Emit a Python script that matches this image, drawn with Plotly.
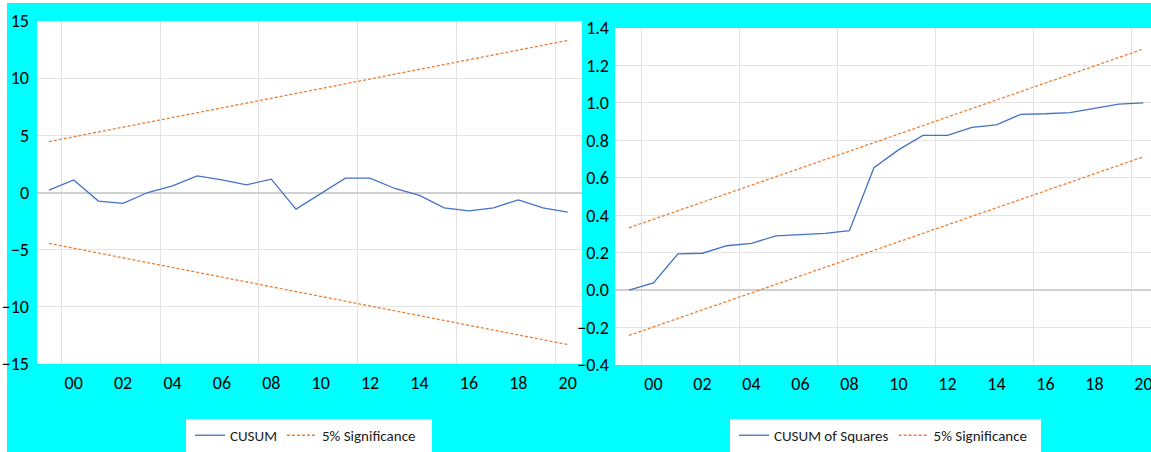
import plotly.graph_objects as go

W, H = 1151, 452

# Recursive-residual stability tests, 1999-2020
years = list(range(1999, 2021))
cusum = [0.2, 1.1, -0.75, -0.95, 0.0, 0.58, 1.46, 1.1, 0.67, 1.17, -1.45,
         -0.1, 1.26, 1.26, 0.35, -0.26, -1.34, -1.6, -1.34, -0.64, -1.34, -1.71]
cusum_sq = [0.0, 0.039, 0.194, 0.197, 0.237, 0.25, 0.29, 0.295, 0.303, 0.317,
            0.654, 0.749, 0.826, 0.826, 0.869, 0.883, 0.939, 0.942, 0.948,
            0.971, 0.993, 1.0]

# 5% significance bounds (straight lines between the end years)
bound_years = [1999, 2020]
cusum_upper = [4.45, 13.3]
cusum_lower = [-4.45, -13.3]
sq_upper = [0.333, 1.288]
sq_lower = [-0.242, 0.712]

tick_years = list(range(2000, 2021, 2))
tick_text = [f"{y % 100:02d}" for y in tick_years]
grid_years = [1999.5, 2003.5, 2007.5, 2011.5, 2015.5, 2019.5]

BLUE = "#4472C4"
ORANGE = "#ED7D31"
FONT = "Carlito, Lato, sans-serif"


def px_x(p):
    return p / W


def px_y(p):
    return 1 - p / H


fig = go.Figure()

# Left panel: CUSUM
fig.add_trace(go.Scatter(x=years, y=cusum, mode="lines", name="CUSUM",
                         line=dict(color=BLUE, width=1.3),
                         xaxis="x", yaxis="y", legend="legend"))
fig.add_trace(go.Scatter(x=bound_years, y=cusum_upper, mode="lines",
                         name="5% Significance",
                         line=dict(color=ORANGE, width=1.3, dash="3px,2px"),
                         xaxis="x", yaxis="y", legend="legend"))
fig.add_trace(go.Scatter(x=bound_years, y=cusum_lower, mode="lines",
                         name="5% Significance", showlegend=False,
                         line=dict(color=ORANGE, width=1.3, dash="3px,2px"),
                         xaxis="x", yaxis="y"))

# Right panel: CUSUM of squares
fig.add_trace(go.Scatter(x=years, y=cusum_sq, mode="lines",
                         name="CUSUM of Squares",
                         line=dict(color=BLUE, width=1.3),
                         xaxis="x2", yaxis="y2", legend="legend2"))
fig.add_trace(go.Scatter(x=bound_years, y=sq_upper, mode="lines",
                         name="5% Significance",
                         line=dict(color=ORANGE, width=1.3, dash="3px,2px"),
                         xaxis="x2", yaxis="y2", legend="legend2"))
fig.add_trace(go.Scatter(x=bound_years, y=sq_lower, mode="lines",
                         name="5% Significance", showlegend=False,
                         line=dict(color=ORANGE, width=1.3, dash="3px,2px"),
                         xaxis="x2", yaxis="y2"))

grid_col = "#E3E3E3"
zero_col = "#D0D0D0"
tick_font = dict(family=FONT, size=18, color="#000000")

xaxis_common = dict(
    tickmode="array", tickvals=tick_years, ticktext=tick_text,
    showgrid=False, zeroline=False, showline=False, ticks="",
    tickfont=tick_font, ticklabelstandoff=6, automargin=False,
    ticklabeloverflow="allow",
    minor=dict(tickmode="array", tickvals=grid_years, showgrid=True,
               gridcolor=grid_col, gridwidth=1, ticks=""),
)
yaxis_common = dict(
    showgrid=True, gridcolor=grid_col, gridwidth=1,
    zeroline=True, zerolinecolor=zero_col, zerolinewidth=2,
    showline=False, ticks="", tickfont=tick_font,
    automargin=False, ticklabeloverflow="allow",
)
legend_font = dict(family=FONT, size=15, color="#1a1a1a")

fig.update_layout(
    width=W, height=H,
    margin=dict(l=0, r=0, t=0, b=0, autoexpand=False),
    paper_bgcolor="#00FFFF",
    plot_bgcolor="#FFFFFF",
    font=dict(family=FONT, color="#222222"),
    xaxis=dict(domain=[px_x(37), px_x(582)], range=[1998.514, 2020.58],
               anchor="y", **xaxis_common),
    yaxis=dict(domain=[px_y(364), px_y(21)], range=[-15, 15],
               tickvals=[-15, -10, -5, 0, 5, 10, 15], anchor="x",
               ticklabelstandoff=7, **yaxis_common),
    xaxis2=dict(domain=[px_x(615), 1.0], range=[1998.43, 2020.31],
                anchor="y2", **xaxis_common),
    yaxis2=dict(domain=[px_y(365), px_y(28)], range=[-0.4, 1.4],
                tickvals=[-0.4, -0.2, 0.0, 0.2, 0.4, 0.6, 0.8, 1.0, 1.2, 1.4],
                tickformat=".1f", anchor="x2", ticklabelstandoff=5,
                **yaxis_common),
    legend=dict(orientation="h", x=px_x(190), y=0.0, xanchor="left",
                yanchor="bottom", bgcolor="rgba(0,0,0,0)",
                font=legend_font, itemwidth=30),
    legend2=dict(orientation="h", x=px_x(734), y=0.0, xanchor="left",
                 yanchor="bottom", bgcolor="rgba(0,0,0,0)",
                 font=legend_font, itemwidth=30),
    shapes=[
        # white frame strips along the top and left edges
        dict(type="rect", xref="paper", yref="paper", x0=0, x1=px_x(7),
             y0=0, y1=1, fillcolor="white", line=dict(width=0), layer="below"),
        dict(type="rect", xref="paper", yref="paper", x0=0, x1=1,
             y0=px_y(3), y1=1, fillcolor="white", line=dict(width=0),
             layer="below"),
        # legend boxes
        dict(type="rect", xref="paper", yref="paper", x0=px_x(186),
             x1=px_x(432), y0=0, y1=px_y(419), fillcolor="white",
             line=dict(width=0), layer="below"),
        dict(type="rect", xref="paper", yref="paper", x0=px_x(730),
             x1=px_x(1041), y0=0, y1=px_y(419), fillcolor="white",
             line=dict(width=0), layer="below"),
    ],
)

fig.write_html("out.html")
